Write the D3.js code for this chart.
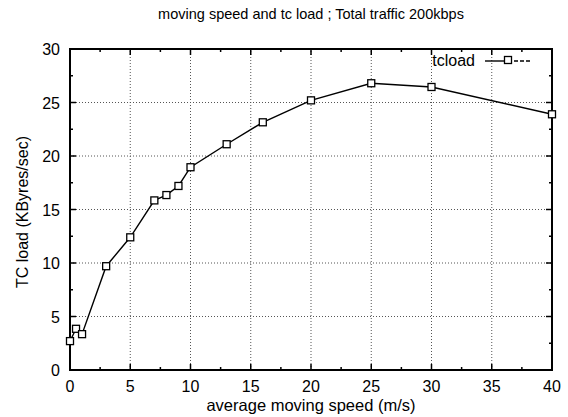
<!DOCTYPE html>
<html>
<head>
<meta charset="utf-8">
<script src="https://cdn.jsdelivr.net/npm/d3@7"></script>
<style>
	body { margin: 0; background: #fff; }
	svg { display: block; font-family: "Liberation Sans", Arial, sans-serif; }
	.grid line { stroke: #555; stroke-dasharray: 1,2; stroke-width: 1; }
</style>
</head>
<body>
<svg id="chart"></svg>
<script>
const speeds = [0, 0.5, 1, 3, 5, 7, 8, 9, 10, 13, 16, 20, 25, 30, 40];
const tcload = [2.7, 3.85, 3.35, 9.7, 12.4, 15.85, 16.35, 17.2, 18.95, 21.1, 23.15, 25.2, 26.8, 26.45, 23.9];
const xTicks = [0, 5, 10, 15, 20, 25, 30, 35, 40];
const yTicks = [0, 5, 10, 15, 20, 25, 30];

const W = 568, H = 417;
const margin = {top: 49, right: 16, bottom: 47, left: 70};

const svg = d3.select('#chart')
	.attr('width', W)
	.attr('height', H);

const x = d3.scaleLinear()
	.domain([0, 40])
	.range([margin.left, W - margin.right]);

const y = d3.scaleLinear()
	.domain([0, 30])
	.range([H - margin.bottom, margin.top]);

// grid
const grid = svg.append('g').attr('class', 'grid');
grid.selectAll('.gx')
	.data(xTicks.slice(1, -1))
	.enter().append('line')
	.attr('x1', d => x(d)).attr('x2', d => x(d))
	.attr('y1', y(0)).attr('y2', y(30));
grid.selectAll('.gy')
	.data(yTicks.slice(1, -1))
	.enter().append('line')
	.attr('x1', x(0)).attr('x2', x(40))
	.attr('y1', d => y(d)).attr('y2', d => y(d));

// axes (gnuplot style: ticks inward, mirrored)
const minorX = d3.range(2.5, 40, 5);
const minorY = d3.range(2.5, 30, 5);
const axes = svg.append('g').attr('stroke', '#000');
const tick = (x1, y1, x2, y2) => axes.append('line')
	.attr('x1', x1).attr('y1', y1).attr('x2', x2).attr('y2', y2)
	.attr('stroke-width', 1.5);
xTicks.forEach(d => { tick(x(d), y(0), x(d), y(0) - 6); tick(x(d), y(30), x(d), y(30) + 6); });
minorX.forEach(d => { tick(x(d), y(0), x(d), y(0) - 3); tick(x(d), y(30), x(d), y(30) + 3); });
yTicks.forEach(d => { tick(x(0), y(d), x(0) + 6, y(d)); tick(x(40), y(d), x(40) - 6, y(d)); });
minorY.forEach(d => { tick(x(0), y(d), x(0) + 3, y(d)); tick(x(40), y(d), x(40) - 3, y(d)); });

axes.append('rect')
	.attr('x', x(0)).attr('y', y(30))
	.attr('width', x(40) - x(0)).attr('height', y(0) - y(30))
	.attr('fill', 'none')
	.attr('stroke-width', 2);

// tick labels
svg.append('g').selectAll('text')
	.data(xTicks)
	.enter().append('text')
	.attr('x', d => x(d))
	.attr('y', y(0) + 22)
	.attr('text-anchor', 'middle')
	.attr('font-size', 16)
	.text(d => d);

svg.append('g').selectAll('text')
	.data(yTicks)
	.enter().append('text')
	.attr('x', x(0) - 10)
	.attr('y', d => y(d) + 6)
	.attr('text-anchor', 'end')
	.attr('font-size', 16)
	.text(d => d);

// titles
svg.append('text')
	.attr('x', 311).attr('y', 19)
	.attr('text-anchor', 'middle')
	.attr('font-size', 14.5)
	.text('moving speed and tc load ; Total traffic 200kbps');

svg.append('text')
	.attr('x', 311).attr('y', 411)
	.attr('text-anchor', 'middle')
	.attr('font-size', 16.5)
	.text('average moving speed (m/s)');

svg.append('text')
	.attr('transform', `translate(28,212) rotate(-90)`)
	.attr('text-anchor', 'middle')
	.attr('font-size', 16)
	.text('TC load (KByres/sec)');

// series
const pts = speeds.map((s, i) => [s, tcload[i]]);
const line = d3.line().x(d => x(d[0])).y(d => y(d[1]));

svg.append('path')
	.datum(pts)
	.attr('d', line)
	.attr('fill', 'none')
	.attr('stroke', '#000')
	.attr('stroke-width', 1.4);

svg.append('g').selectAll('rect')
	.data(pts)
	.enter().append('rect')
	.attr('x', d => x(d[0]) - 3.5)
	.attr('y', d => y(d[1]) - 3.5)
	.attr('width', 7).attr('height', 7)
	.attr('fill', '#fff')
	.attr('stroke', '#000')
	.attr('stroke-width', 1.3);

// legend
const lg = svg.append('g');
lg.append('text')
	.attr('x', 475).attr('y', 66)
	.attr('text-anchor', 'end')
	.attr('font-size', 16)
	.text('tcload');
lg.append('line')
	.attr('x1', 485).attr('x2', 508)
	.attr('y1', 61).attr('y2', 61)
	.attr('stroke', '#000').attr('stroke-width', 1.4);
lg.append('line')
	.attr('x1', 508).attr('x2', 532)
	.attr('y1', 61).attr('y2', 61)
	.attr('stroke', '#000').attr('stroke-width', 1.4)
	.attr('stroke-dasharray', '4,2');
lg.append('rect')
	.attr('x', 508 - 3.5).attr('y', 60 - 3.5)
	.attr('width', 7).attr('height', 7)
	.attr('fill', '#fff').attr('stroke', '#000').attr('stroke-width', 1.3);
</script>
</body>
</html>
